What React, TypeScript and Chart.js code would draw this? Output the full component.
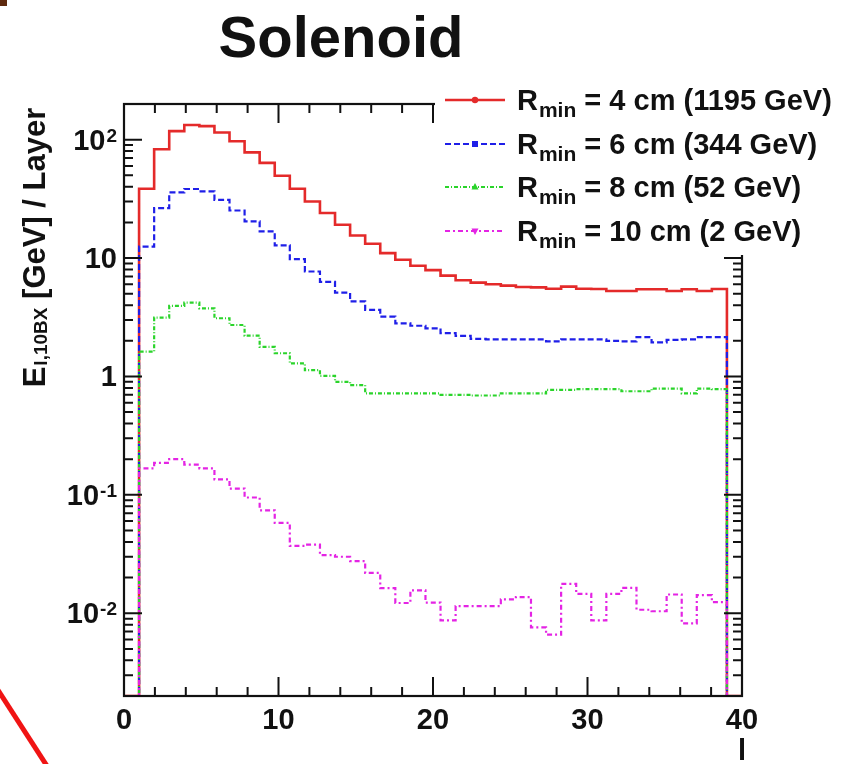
import React, { useEffect, useRef } from 'react';
import { Chart, registerables } from 'chart.js';

Chart.register(...registerables);

const FONT = '"Liberation Sans", Arial, Helvetica, sans-serif';
const INK = '#111111';

// ---- text ----
const TITLE = 'Solenoid';
const X_TITLE = 'l';
const Y_TITLE_MAIN = 'E';
const Y_TITLE_SUB = 'l,10BX';
const Y_TITLE_REST = ' [GeV] / Layer';
const LEGEND_MAIN = 'R';
const LEGEND_SUB = 'min';
const LEGEND_LABELS = [' = 4 cm (1195 GeV)', ' = 6 cm (344 GeV)', ' = 8 cm (52 GeV)', ' = 10 cm (2 GeV)'];

// ---- axes ----
const X_MIN = 0;
const X_MAX = 40;
const N_BINS = 41;
const Y_MIN = 0.002;
const Y_MAX = 200;
const X_TICK_VALUES = [0, 10, 20, 30, 40];
const X_TICK_LABELS = ['0', '10', '20', '30', '40'];
const X_MINOR_STEP = 2;
const Y_TICK_VALUES = [0.01, 0.1, 1, 10, 100];
const Y_TICK_BASES = ['10', '10', '1', '10', '10'];
const Y_TICK_EXPONENTS = ['-2', '-1', '', '', '2'];

// ---- histogram contents per bin (bin 0 and last bin empty) ----
const R4_VALUES = [0, 38.5, 83, 118, 133, 130, 115, 97, 78, 63.6, 49.5, 38.5, 30, 24, 19.1, 15.5, 13.2, 11, 9.66, 8.6, 7.9,
  7.1, 6.5, 6.2, 6.0, 5.85, 5.7, 5.65, 5.5, 5.74, 5.5, 5.48, 5.27, 5.27, 5.45, 5.45, 5.27, 5.45, 5.27, 5.48, 0];
const R6_VALUES = [0, 12.5, 26.4, 35.8, 38.3, 36.5, 31, 25.2, 20.4, 16.8, 12.8, 9.8, 7.7, 6.3, 5.1, 4.3, 3.65, 3.2, 2.81, 2.68, 2.55,
  2.32, 2.2, 2.08, 2.06, 2.06, 2.06, 2.06, 1.98, 2.06, 2.06, 2.06, 2.0, 1.98, 2.15, 1.94, 2.04, 2.06, 2.15, 2.15, 0];
const R8_VALUES = [0, 1.62, 3.14, 3.94, 4.2, 3.76, 3.1, 2.72, 2.21, 1.78, 1.57, 1.29, 1.13, 1.01, 0.9, 0.845, 0.72, 0.72, 0.72, 0.72, 0.72,
  0.7, 0.7, 0.69, 0.69, 0.72, 0.72, 0.72, 0.77, 0.77, 0.78, 0.78, 0.78, 0.75, 0.75, 0.79, 0.79, 0.72, 0.79, 0.78, 0];
const R10_VALUES = [0, 0.167, 0.186, 0.2, 0.18, 0.167, 0.135, 0.113, 0.095, 0.074, 0.058, 0.037, 0.038, 0.031, 0.03, 0.0276, 0.0219, 0.0163, 0.0122, 0.0156, 0.0123,
  0.0087, 0.0115, 0.0115, 0.0115, 0.0131, 0.0137, 0.0076, 0.0066, 0.0177, 0.0146, 0.0087, 0.0146, 0.0164, 0.0107, 0.0104, 0.0144, 0.0082, 0.0142, 0.0124, 0];

const SERIES = [
  { values: R4_VALUES, color: '#e42a2a', width: 2.6, dash: [] as number[], marker: 'circle' },
  { values: R6_VALUES, color: '#1f1fe8', width: 2.2, dash: [6, 3], marker: 'square' },
  { values: R8_VALUES, color: '#2ad42a', width: 2.2, dash: [4, 2, 1, 2], marker: 'triangle' },
  { values: R10_VALUES, color: '#e424e4', width: 2.2, dash: [5, 3, 2, 3], marker: 'triangleDown' },
];

const binWidth = (X_MAX - X_MIN) / N_BINS;
function toSteps(values: number[]) {
  const pts = values.map((v, i) => ({ x: X_MIN + i * binWidth, y: v > 0 ? v : Y_MIN }));
  pts.push({ x: X_MAX, y: Y_MIN });
  return pts;
}

function drawMarker(ctx: CanvasRenderingContext2D, kind: string, x: number, y: number, color: string) {
  ctx.save();
  ctx.fillStyle = color;
  ctx.beginPath();
  if (kind === 'circle') ctx.arc(x, y, 3.2, 0, Math.PI * 2);
  else if (kind === 'square') ctx.rect(x - 3, y - 3, 6, 6);
  else if (kind === 'triangle') { ctx.moveTo(x, y - 4); ctx.lineTo(x + 3.5, y + 2.5); ctx.lineTo(x - 3.5, y + 2.5); ctx.closePath(); }
  else { ctx.moveTo(x, y + 4); ctx.lineTo(x + 3.5, y - 2.5); ctx.lineTo(x - 3.5, y - 2.5); ctx.closePath(); }
  ctx.fill();
  ctx.restore();
}

const rootStylePlugin = {
  id: 'rootStyle',
  beforeDraw(chart: any) {
    const ctx = chart.ctx as CanvasRenderingContext2D;
    ctx.save();
    ctx.fillStyle = '#ffffff';
    ctx.fillRect(0, 0, chart.width, chart.height);
    ctx.restore();
  },
  afterDatasetsDraw(chart: any) {
    const ctx = chart.ctx as CanvasRenderingContext2D;
    const a = chart.chartArea;
    const xs = chart.scales.x;
    const ys = chart.scales.y;
    ctx.save();

    // ticks
    ctx.strokeStyle = INK;
    ctx.lineWidth = 2;
    ctx.beginPath();
    for (let v = X_MIN; v <= X_MAX + 1e-9; v += X_MINOR_STEP) {
      const px = xs.getPixelForValue(v);
      const len = X_TICK_VALUES.includes(v) ? 19 : 9;
      ctx.moveTo(px, a.bottom); ctx.lineTo(px, a.bottom - len);
      ctx.moveTo(px, a.top); ctx.lineTo(px, a.top + len);
    }
    const dMin = Math.floor(Math.log10(Y_MIN));
    const dMax = Math.ceil(Math.log10(Y_MAX));
    for (let d = dMin; d <= dMax; d++) {
      for (let m = 1; m <= 9; m++) {
        const v = m * Math.pow(10, d);
        if (v < Y_MIN * 0.999 || v > Y_MAX * 1.001) continue;
        const py = ys.getPixelForValue(v);
        const len = m === 1 ? 18 : 9;
        ctx.moveTo(a.left, py); ctx.lineTo(a.left + len, py);
        ctx.moveTo(a.right, py); ctx.lineTo(a.right - len, py);
      }
    }
    ctx.stroke();
    ctx.lineWidth = 2.2;
    ctx.strokeRect(a.left, a.top, a.right - a.left, a.bottom - a.top);

    // tick labels
    ctx.fillStyle = INK;
    ctx.textBaseline = 'alphabetic';
    ctx.textAlign = 'center';
    ctx.font = `bold 29px ${FONT}`;
    X_TICK_VALUES.forEach((v, i) => {
      ctx.fillText(X_TICK_LABELS[i], xs.getPixelForValue(v), a.bottom + 33);
    });
    const labelRight = a.left - 7;
    Y_TICK_VALUES.forEach((v, i) => {
      const py = ys.getPixelForValue(v);
      const exp = Y_TICK_EXPONENTS[i];
      ctx.textAlign = 'right';
      let right = labelRight;
      if (exp) {
        ctx.font = `bold 19px ${FONT}`;
        const ws = ctx.measureText(exp).width;
        ctx.fillText(exp, right, py + 2);
        right -= ws + 1;
      }
      ctx.font = `bold 29px ${FONT}`;
      ctx.fillText(Y_TICK_BASES[i], right, py + 10);
    });

    // axis titles
    ctx.textAlign = 'center';
    ctx.font = `bold 29px ${FONT}`;
    ctx.fillText(X_TITLE, a.right, a.bottom + 64);

    ctx.save();
    ctx.translate(45, 248);
    ctx.rotate(-Math.PI / 2);
    ctx.textAlign = 'left';
    ctx.font = `bold 31px ${FONT}`;
    const w1 = ctx.measureText(Y_TITLE_MAIN).width;
    const w3 = ctx.measureText(Y_TITLE_REST).width;
    ctx.font = `bold 19px ${FONT}`;
    const w2 = ctx.measureText(Y_TITLE_SUB).width;
    let tx = -(w1 + w2 + w3) / 2;
    ctx.font = `bold 31px ${FONT}`;
    ctx.fillText(Y_TITLE_MAIN, tx, 0);
    ctx.font = `bold 19px ${FONT}`;
    ctx.fillText(Y_TITLE_SUB, tx + w1 + 1, 2);
    ctx.font = `bold 31px ${FONT}`;
    ctx.fillText(Y_TITLE_REST, tx + w1 + w2 + 1, 0);
    ctx.restore();

    // legend (opaque box over the frame corner)
    ctx.fillStyle = '#ffffff';
    ctx.fillRect(435, 72, chart.width - 435, 255 - 72);
    const rowY = [100, 144, 187, 231];
    SERIES.forEach((s, i) => {
      const y = rowY[i];
      ctx.strokeStyle = s.color;
      ctx.lineWidth = s.width;
      ctx.setLineDash(s.dash);
      ctx.beginPath();
      ctx.moveTo(445, y); ctx.lineTo(505, y);
      ctx.stroke();
      ctx.setLineDash([]);
      drawMarker(ctx, s.marker, 475, y, s.color);
      ctx.fillStyle = INK;
      ctx.textAlign = 'left';
      ctx.font = `bold 29px ${FONT}`;
      let lx = 517;
      ctx.fillText(LEGEND_MAIN, lx, y + 10);
      lx += ctx.measureText(LEGEND_MAIN).width;
      ctx.font = `bold 21px ${FONT}`;
      ctx.fillText(LEGEND_SUB, lx + 1, y + 17);
      lx += ctx.measureText(LEGEND_SUB).width + 1;
      ctx.font = `bold 29px ${FONT}`;
      ctx.fillText(LEGEND_LABELS[i], lx, y + 10);
    });

    // title
    ctx.fillStyle = INK;
    ctx.textAlign = 'center';
    ctx.font = `bold 58px ${FONT}`;
    ctx.fillText(TITLE, 341, 57);

    // slide decorations
    ctx.fillStyle = '#5e2a0e';
    ctx.fillRect(0, 0, 7, 6);
    ctx.strokeStyle = '#f01414';
    ctx.lineWidth = 5;
    ctx.beginPath();
    ctx.moveTo(-2, 690); ctx.lineTo(47, 766);
    ctx.stroke();

    ctx.restore();
  },
};

export default function App() {
  const ref = useRef<HTMLCanvasElement>(null);
  useEffect(() => {
    const canvas = ref.current!;
    const chart = new Chart(canvas, {
      type: 'line',
      data: {
        datasets: SERIES.map((s, i) => ({
          label: LEGEND_MAIN + LEGEND_SUB + LEGEND_LABELS[i],
          data: toSteps(s.values),
          borderColor: s.color,
          borderWidth: s.width,
          borderDash: s.dash,
          stepped: 'before' as const,
          pointRadius: 0,
          fill: false,
          order: SERIES.length - i,
        })),
      },
      options: {
        responsive: false,
        animation: false,
        devicePixelRatio: 1,
        events: [],
        layout: { padding: { left: 124, right: 107, top: 104, bottom: 68 } },
        plugins: { legend: { display: false }, title: { display: false }, tooltip: { enabled: false } },
        scales: {
          x: { type: 'linear', min: X_MIN, max: X_MAX, display: false },
          y: { type: 'logarithmic', min: Y_MIN, max: Y_MAX, display: false },
        },
      } as any,
      plugins: [rootStylePlugin],
    });
    return () => chart.destroy();
  }, []);
  return (
    <div style={{ position: 'fixed', left: 0, top: 0, width: 849, height: 764, background: '#fff' }}>
      <canvas ref={ref} width={849} height={764} style={{ display: 'block', width: 849, height: 764 }} />
    </div>
  );
}
